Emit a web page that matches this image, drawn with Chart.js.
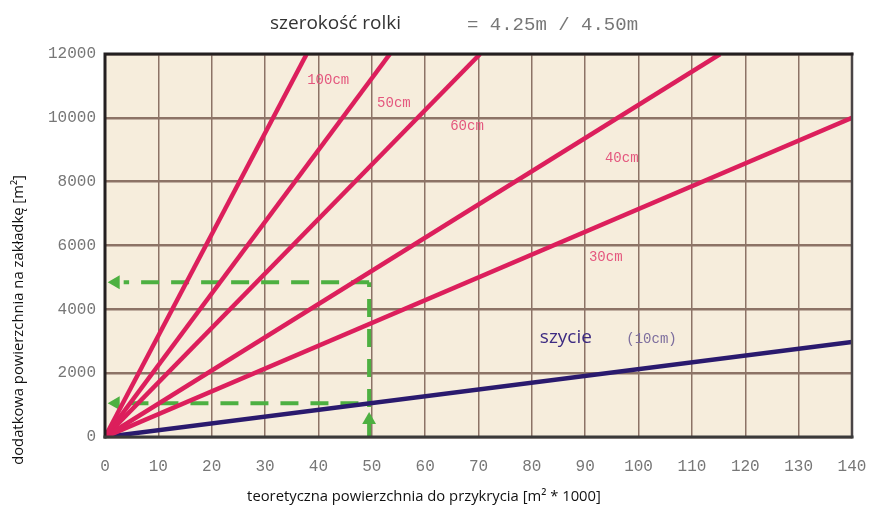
<!DOCTYPE html>
<html>
<head>
<meta charset="utf-8">
<script src="https://cdn.jsdelivr.net/npm/chart.js@4.4.0/dist/chart.umd.min.js"></script>
<style>
html, body { margin: 0; padding: 0; background: #fff; }
</style>
</head>
<body>
<canvas id="chart" width="869" height="508"></canvas>
<script>
// Values
const xTickLabels = [0, 10, 20, 30, 40, 50, 60, 70, 80, 90, 100, 110, 120, 130, 140];
const yTickLabels = [0, 2000, 4000, 6000, 8000, 10000, 12000];

// each line starts at the origin and ends at (endX, endY)
const seriesNames = ['100cm', '50cm', '60cm', '40cm', '30cm', 'szycie'];
const seriesEndX = [37.8, 53.4, 70.3, 115.3, 140, 140];
const seriesEndY = [12000, 12000, 12000, 12000, 10000, 2980];

// green reading guide (example)
const guideX = 49.5;
const guideUpperY = 4850;
const guideLowerY = 1060;

const PINK = '#dc1f5c';
const PURPLE = '#2a1a6e';
const GREEN = '#4db041';
const MONO = '"Liberation Mono", "DejaVu Sans Mono", monospace';
const SANS = '"Open Sans", "Noto Sans", sans-serif';

const datasets = seriesNames.map((name, i) => ({
  label: name,
  data: [{ x: 0, y: 0 }, { x: seriesEndX[i], y: seriesEndY[i] }],
  borderColor: name === 'szycie' ? PURPLE : PINK,
  borderWidth: 4.5,
  pointRadius: 0,
  fill: false
}));

const guideStyle = {
  borderColor: GREEN,
  borderWidth: 4,
  borderDash: [18, 12],
  pointRadius: 0,
  fill: false
};
datasets.push(Object.assign({
  label: 'guide-vertical',
  data: [{ x: guideX, y: 0 }, { x: guideX, y: guideUpperY }]
}, guideStyle));
datasets.push(Object.assign({
  label: 'guide-upper',
  data: [{ x: guideX, y: guideUpperY }, { x: 3.5, y: guideUpperY }]
}, guideStyle));
datasets.push(Object.assign({
  label: 'guide-lower',
  data: [{ x: guideX - 2, y: guideLowerY }, { x: 3.5, y: guideLowerY }]
}, guideStyle));
// arrow heads
datasets.push({
  label: 'arrows-left',
  data: [{ x: 2.0, y: guideUpperY }, { x: 2.0, y: guideLowerY }],
  showLine: false,
  pointStyle: 'triangle',
  pointRotation: -90,
  pointRadius: 8,
  backgroundColor: GREEN,
  borderWidth: 0
});
datasets.push({
  label: 'arrow-up',
  data: [{ x: guideX, y: 530 }],
  showLine: false,
  pointStyle: 'triangle',
  pointRotation: 0,
  pointRadius: 8,
  backgroundColor: GREEN,
  borderWidth: 0
});

// text placed in data coordinates next to the lines
const lineTexts = [
  { text: '100cm', x: 37.9, y: 11190, color: '#e4577e', font: '14px ' + MONO },
  { text: '50cm', x: 51.0, y: 10440, color: '#e4577e', font: '14px ' + MONO },
  { text: '60cm', x: 64.7, y: 9720, color: '#e4577e', font: '14px ' + MONO },
  { text: '40cm', x: 93.7, y: 8720, color: '#e4577e', font: '14px ' + MONO },
  { text: '30cm', x: 90.7, y: 5620, color: '#e4577e', font: '14px ' + MONO },
  { text: 'szycie', x: 81.5, y: 3120, color: '#3d2b82', font: '19px ' + SANS },
  { text: '(10cm)', x: 97.7, y: 3060, color: '#7d6e9e', font: '14px ' + MONO }
];

const decorPlugin = {
  id: 'decor',
  beforeDraw(chart) {
    const { ctx, chartArea: a } = chart;
    ctx.save();
    ctx.fillStyle = '#f6eddc';
    ctx.fillRect(a.left, a.top, a.right - a.left, a.bottom - a.top);
    ctx.restore();
  },
  afterDatasetsDraw(chart) {
    const { ctx, chartArea: a, scales } = chart;
    ctx.save();
    // frame
    ctx.lineCap = 'square';
    ctx.strokeStyle = '#4a4546';
    ctx.lineWidth = 2.5;
    ctx.beginPath();
    ctx.moveTo(a.right, a.top);
    ctx.lineTo(a.right, a.bottom);
    ctx.stroke();
    ctx.strokeStyle = '#231f20';
    ctx.lineWidth = 3;
    ctx.beginPath();
    ctx.moveTo(a.left, a.bottom);
    ctx.lineTo(a.left, a.top);
    ctx.lineTo(a.right, a.top);
    ctx.stroke();
    ctx.strokeStyle = '#3a3a3a';
    ctx.beginPath();
    ctx.moveTo(a.left, a.bottom);
    ctx.lineTo(a.right, a.bottom);
    ctx.stroke();

    // labels on the lines
    ctx.textAlign = 'left';
    ctx.textBaseline = 'middle';
    lineTexts.forEach(t => {
      ctx.font = t.font;
      ctx.fillStyle = t.color;
      ctx.fillText(t.text, scales.x.getPixelForValue(t.x), scales.y.getPixelForValue(t.y));
    });

    // title
    ctx.fillStyle = '#333';
    ctx.font = '19px ' + SANS;
    ctx.fillText('szerokość rolki', 270, 24);
    ctx.fillStyle = '#777';
    ctx.font = '19px ' + MONO;
    ctx.fillText('= 4.25m / 4.50m', 467, 25);

    // axis titles
    ctx.fillStyle = '#111';
    ctx.font = '14.8px ' + SANS;
    ctx.textAlign = 'center';
    ctx.fillText('teoretyczna powierzchnia do przykrycia [m² * 1000]', 424, 497);
    ctx.translate(19, 320);
    ctx.rotate(-Math.PI / 2);
    ctx.fillText('dodatkowa powierzchnia na zakładkę [m²]', 0, 0);
    ctx.restore();
  }
};

new Chart(document.getElementById('chart'), {
  type: 'line',
  data: { datasets: datasets },
  options: {
    responsive: false,
    animation: false,
    layout: { padding: { top: 54, right: 17, left: 0, bottom: 0 } },
    plugins: {
      legend: { display: false },
      tooltip: { enabled: false }
    },
    scales: {
      x: {
        type: 'linear',
        min: 0,
        max: 140,
        afterBuildTicks: s => { s.ticks = xTickLabels.map(v => ({ value: v })); },
        afterFit: s => { s.height = 71; s.paddingLeft = 0; s.paddingRight = 0; },
        border: { display: false },
        grid: { color: '#8c7366', lineWidth: 1.5, drawTicks: false },
        ticks: {
          padding: 20,
          color: '#777',
          font: { family: MONO, size: 16 },
          maxRotation: 0,
          callback: v => String(v)
        }
      },
      y: {
        type: 'linear',
        min: 0,
        max: 12000,
        afterBuildTicks: s => { s.ticks = yTickLabels.map(v => ({ value: v })); },
        afterFit: s => { s.width = 105; },
        border: { display: false },
        grid: { color: '#8c7366', lineWidth: 2.5, drawTicks: false },
        ticks: {
          padding: 9,
          color: '#777',
          font: { family: MONO, size: 16 },
          callback: v => String(v)
        }
      }
    }
  },
  plugins: [decorPlugin]
});
</script>
</body>
</html>
